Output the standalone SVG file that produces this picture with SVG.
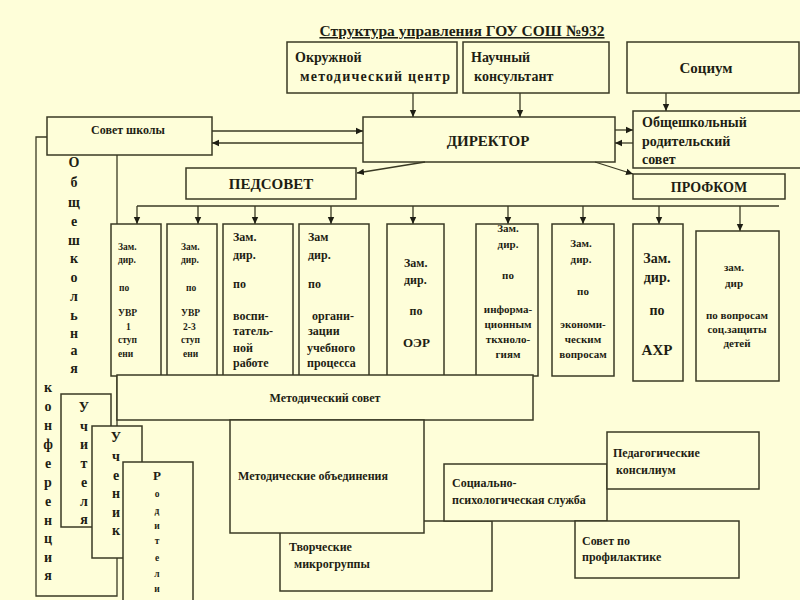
<svg xmlns="http://www.w3.org/2000/svg" width="800" height="600" viewBox="0 0 800 600" font-family="'Liberation Serif', 'DejaVu Serif', serif" font-weight="bold">
<style>
.bg{fill:#FEFED9}
.b{fill:#FEFED9;stroke:#3a3a24;stroke-width:1.5}
.l{fill:none;stroke:#3a3a24;stroke-width:1.3}
text{font-family:'Liberation Serif','DejaVu Serif',serif;font-weight:bold;fill:#1e1e14}
.c{text-anchor:middle}
.s9{font-size:9.5px}
.s11{font-size:11px}
.s12{font-size:12px}
.s13{font-size:13px}
.s14{font-size:14px}
.s15{font-size:15px}
</style>
<defs>
<marker id="ar" markerUnits="userSpaceOnUse" markerWidth="8" markerHeight="8" refX="7" refY="4" orient="auto">
<path d="M0,0.8 L7,4 L0,7.2 Z" fill="#1e1e14"/>
</marker>
</defs>
<rect class="bg" x="0" y="0" width="800" height="600"/>

<text class="c" font-size="15.5" x="462" y="36" text-decoration="underline">Структура управления ГОУ СОШ №932</text>

<g id="conference">
<polyline class="l" points="47,137 36,137 36,596 117,596 117,155"/>
<g class="s14 c">
<text x="74" y="167">О</text><text x="74" y="187">б</text><text x="74" y="207">щ</text><text x="74" y="226">е</text><text x="74" y="245">ш</text><text x="74" y="263">к</text><text x="74" y="282">о</text><text x="74" y="301">л</text><text x="74" y="320">ь</text><text x="74" y="338">н</text><text x="74" y="355">а</text><text x="74" y="373">я</text>
<text x="48" y="392">к</text><text x="48" y="411">о</text><text x="48" y="430">н</text><text x="48" y="449">ф</text><text x="48" y="468">е</text><text x="48" y="487">р</text><text x="48" y="506">е</text><text x="48" y="525">н</text><text x="48" y="543">ц</text><text x="48" y="562">и</text><text x="48" y="580">я</text>
</g>
</g>

<g id="okruzhnoy"><rect class="b" x="287" y="42" width="170" height="51"/>
<text class="s14" x="295" y="62">Окружной</text><text class="s14" x="300" y="81" textLength="150">методический  центр</text></g>
<g id="nauchny"><rect class="b" x="463" y="42" width="146" height="51"/>
<text class="s14" x="471" y="62">Научный</text><text class="s14" x="474" y="81">консультант</text></g>
<g id="socium"><rect class="b" x="627" y="42" width="172" height="51"/>
<text class="s15 c" x="706" y="73">Социум</text></g>

<g id="sovet-shkoly"><rect class="b" x="47" y="117" width="165" height="38"/>
<text class="s12 c" x="128" y="134">Совет школы</text></g>
<g id="director"><rect class="b" x="363" y="117" width="252" height="45"/>
<text class="s15 c" x="488" y="146">ДИРЕКТОР</text></g>
<g id="roditelsky-sovet"><rect class="b" x="633" y="111" width="170" height="57"/>
<text class="s14" x="642" y="127">Общешкольный</text><text class="s14" x="642" y="146">родительский</text><text class="s14" x="642" y="164">совет</text></g>
<g id="pedsovet"><rect class="b" x="186" y="168" width="170" height="31"/>
<text class="s15 c" x="271" y="189">ПЕДСОВЕТ</text></g>
<g id="profkom"><rect class="b" x="633" y="174" width="152" height="25"/>
<text class="s14 c" x="709" y="192">ПРОФКОМ</text></g>

<g id="connectors">
<line class="l" x1="413" y1="93" x2="413" y2="117" marker-end="url(#ar)"/>
<line class="l" x1="520" y1="93" x2="520" y2="117" marker-end="url(#ar)"/>
<line class="l" x1="666" y1="93" x2="666" y2="111" marker-end="url(#ar)"/>
<line class="l" x1="212" y1="131" x2="363" y2="131" marker-end="url(#ar)"/>
<line class="l" x1="363" y1="143" x2="212" y2="143" marker-end="url(#ar)"/>
<line class="l" x1="615" y1="130" x2="633" y2="130" marker-end="url(#ar)"/>
<line class="l" x1="633" y1="143" x2="615" y2="143" marker-end="url(#ar)"/>
<line class="l" x1="425" y1="162" x2="357" y2="173" marker-end="url(#ar)"/>
<line class="l" x1="595" y1="162" x2="633" y2="174" marker-end="url(#ar)"/>
<line class="l" x1="137" y1="206" x2="779" y2="206"/>
<line class="l" x1="137" y1="206" x2="137" y2="224" marker-end="url(#ar)"/>
<line class="l" x1="198" y1="206" x2="198" y2="224" marker-end="url(#ar)"/>
<line class="l" x1="255" y1="206" x2="255" y2="224" marker-end="url(#ar)"/>
<line class="l" x1="331" y1="206" x2="331" y2="224" marker-end="url(#ar)"/>
<line class="l" x1="413" y1="206" x2="413" y2="224" marker-end="url(#ar)"/>
<line class="l" x1="508" y1="206" x2="508" y2="224" marker-end="url(#ar)"/>
<line class="l" x1="583" y1="206" x2="583" y2="224" marker-end="url(#ar)"/>
<line class="l" x1="659" y1="206" x2="659" y2="224" marker-end="url(#ar)"/>
<line class="l" x1="740" y1="206" x2="740" y2="231" marker-end="url(#ar)"/>
</g>

<g id="zam-uvr1"><rect class="b" x="111" y="224" width="50" height="152"/>
<g class="s9"><text x="118" y="250">Зам.</text><text x="118" y="263">дир.</text><text x="119" y="291">по</text><text x="118" y="316">УВР</text><text x="126" y="330">1</text><text x="118" y="343">ступ</text><text x="118" y="357">ени</text></g></g>
<g id="zam-uvr23"><rect class="b" x="167" y="224" width="50" height="152"/>
<g class="s9"><text x="181" y="250">Зам.</text><text x="181" y="263">дир.</text><text x="186" y="291">по</text><text x="181" y="316">УВР</text><text x="183" y="330">2-3</text><text x="181" y="343">ступ</text><text x="183" y="357">ени</text></g></g>
<g id="zam-vosp"><rect class="b" x="223" y="224" width="70" height="152"/>
<g class="s12"><text x="233" y="241">Зам.</text><text x="233" y="259">дир.</text><text x="233" y="288">по</text><text x="233" y="320">воспи-</text><text x="233" y="335">татель-</text><text x="233" y="352">ной</text><text x="233" y="367">работе</text></g></g>
<g id="zam-org"><rect class="b" x="299" y="224" width="70" height="152"/>
<g class="s12"><text x="308" y="241">Зам</text><text x="308" y="259">дир.</text><text x="308" y="288">по</text><text x="312" y="320">органи-</text><text x="308" y="335">зации</text><text x="307" y="352">учебного</text><text x="307" y="367">процесса</text></g></g>
<g id="zam-oer"><rect class="b" x="387" y="224" width="57" height="152"/>
<g class="s12"><text x="404" y="267">Зам.</text><text x="404" y="284">дир.</text><text class="c" x="416" y="315">по</text><text class="s13" x="403" y="347">ОЭР</text></g></g>
<g id="zam-info"><rect class="b" x="476" y="224" width="62" height="152"/>
<g class="s11 c"><text x="508" y="232">Зам.</text><text x="508" y="248">дир.</text><text x="508" y="279">по</text><text x="508" y="313">информа-</text><text x="508" y="328">ционным</text><text x="508" y="343">ткхноло-</text><text x="508" y="358">гиям</text></g></g>
<g id="zam-econ"><rect class="b" x="552" y="224" width="62" height="152"/>
<g class="s11 c"><text x="581" y="247">Зам.</text><text x="581" y="263">дир.</text><text x="583" y="295">по</text><text x="583" y="328">экономи-</text><text x="583" y="343">ческим</text><text x="583" y="358">вопросам</text></g></g>
<g id="zam-ahr"><rect class="b" x="633" y="224" width="50" height="157"/>
<g class="s14 c"><text x="657" y="263">Зам.</text><text x="657" y="282">дир.</text><text x="657" y="315">по</text><text class="s15" x="657" y="355">АХР</text></g></g>
<g id="zam-soc"><rect class="b" x="696" y="231" width="83" height="150"/>
<g class="s11 c"><text x="734" y="271">зам.</text><text x="734" y="287">дир</text><text x="737" y="319">по вопросам</text><text x="737" y="333">соц.защиты</text><text x="737" y="347">детей</text></g></g>

<g id="metod-sovet"><rect class="b" x="117" y="375" width="416" height="45"/>
<text class="s12 c" x="325" y="402">Методический совет</text></g>

<g id="uchitelya"><rect class="b" x="61" y="394" width="50" height="133"/>
<g class="s14 c"><text x="84" y="412">У</text><text x="84" y="431">ч</text><text x="84" y="449">и</text><text x="84" y="468">т</text><text x="84" y="487">е</text><text x="84" y="506">л</text><text x="84" y="524">я</text></g></g>
<g id="ucheniki"><rect class="b" x="92" y="426" width="50" height="132"/>
<g class="s14 c"><text x="116" y="442">У</text><text x="116" y="461">ч</text><text x="116" y="480">е</text><text x="116" y="498">н</text><text x="116" y="517">и</text><text x="116" y="535">к</text></g></g>
<g id="roditeli"><rect class="b" x="123" y="462" width="70" height="140"/>
<g class="c"><text class="s13" x="157" y="480">Р</text><g class="s9"><text x="157" y="497">о</text><text x="157" y="514">д</text><text x="157" y="529">и</text><text x="157" y="544">т</text><text x="157" y="561">е</text><text x="157" y="577">л</text><text x="157" y="592">и</text></g></g></g>

<g id="tvorcheskie"><rect class="b" x="280" y="521" width="212" height="70"/>
<text class="s12" x="289" y="551">Творческие</text><text class="s12" x="294" y="568">микрогруппы</text></g>
<g id="metod-obed"><rect class="b" x="230" y="420" width="194" height="113"/>
<text class="s12" x="238" y="480">Методические объединения</text></g>
<g id="soc-psih"><rect class="b" x="444" y="464" width="163" height="57"/>
<text class="s12" x="452" y="487">Социально-</text><text class="s12" x="452" y="504">психологическая служба</text></g>
<g id="ped-konsilium"><rect class="b" x="607" y="432" width="152" height="57"/>
<text class="s12" x="613" y="457">Педагогические</text><text class="s12" x="616" y="474">консилиум</text></g>
<g id="sovet-profil"><rect class="b" x="575" y="521" width="164" height="57"/>
<text class="s12" x="582" y="545">Совет по</text><text class="s12" x="582" y="561">профилактике</text></g>
</svg>
